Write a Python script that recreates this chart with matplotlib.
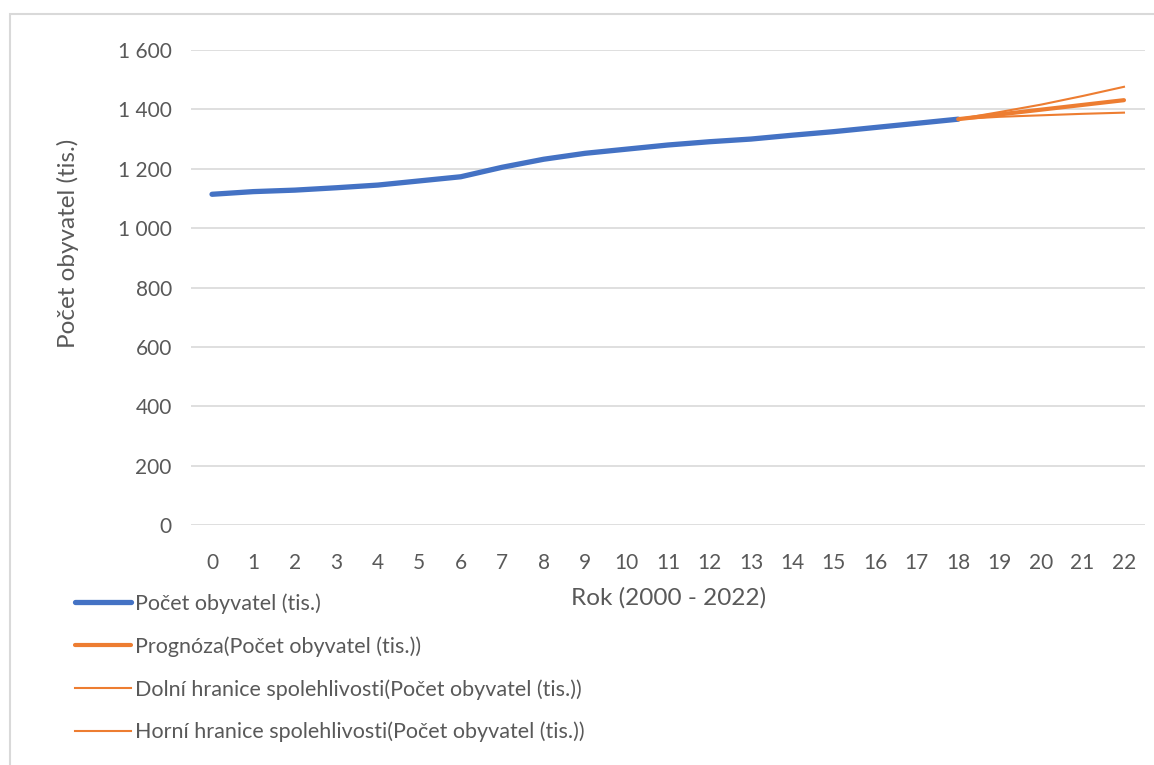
import numpy as np
import matplotlib
matplotlib.use("Agg")
from matplotlib import pyplot as plt
from matplotlib.patches import Rectangle
from matplotlib.ticker import FuncFormatter

plt.rcParams['font.family'] = ['Lato', 'DejaVu Sans']

# pocet obyvatel 2000 - 2018 (tis.)
roky = list(range(0, 19))
obyvatele = [1114, 1123, 1128, 1136, 1145, 1159, 1173, 1205, 1232, 1252,
             1266, 1280, 1291, 1300, 1313, 1325, 1339, 1353, 1367]
# prognoza 2018 - 2022
roky_prog = [18, 19, 20, 21, 22]
prognoza = [1367, 1383, 1399, 1415, 1431]
dolni = [1367, 1375, 1380, 1385, 1389]
horni = [1367, 1391, 1416, 1445, 1476]

modra = '#4472C4'
oranzova = '#ED7D31'
seda = '#595959'

fig = plt.figure(figsize=(11.54, 7.65), dpi=100)
ax = fig.add_axes([191.3 / 1154, 1 - 525 / 765, (1144.7 - 191.3) / 1154, 475 / 765])

ax.plot(roky, obyvatele, color=modra, linewidth=3.8, solid_capstyle='round',
        label='Počet obyvatel (tis.)', zorder=3)
ax.plot(roky_prog, prognoza, color=oranzova, linewidth=3.0, solid_capstyle='round',
        label='Prognóza(Počet obyvatel (tis.))', zorder=3)
ax.plot(roky_prog, dolni, color=oranzova, linewidth=1.5,
        label='Dolní hranice spolehlivosti(Počet obyvatel (tis.))', zorder=3)
ax.plot(roky_prog, horni, color=oranzova, linewidth=1.5,
        label='Horní hranice spolehlivosti(Počet obyvatel (tis.))', zorder=3)

ax.set_xlim(-0.5, 22.5)
ax.set_ylim(0, 1600)
ax.set_xticks(range(0, 23))
ax.set_yticks(range(0, 1601, 200))
ax.yaxis.set_major_formatter(FuncFormatter(lambda v, p: '{:,}'.format(int(v)).replace(',', ' ')))
ax.grid(axis='y', color='#d9d9d9', linewidth=1.2)
ax.set_axisbelow(True)
for s in ax.spines.values():
    s.set_visible(False)
ax.tick_params(length=0, labelsize=15, colors=seda)
ax.tick_params(axis='x', pad=20)
ax.tick_params(axis='y', pad=14)

fig.text(669 / 1154, 1 - 598 / 765, 'Rok (2000 - 2022)', ha='center', va='center',
         fontsize=17.5, color=seda)
fig.text(68 / 1154, 1 - 243 / 765, 'Počet obyvatel (tis.)', ha='center', va='center',
         rotation=90, fontsize=17.5, color=seda)

fig.legend(loc='upper left', bbox_to_anchor=(56 / 1154, 1 - 574 / 765), frameon=False,
           fontsize=15.5, labelcolor=seda, handlelength=2.6, handletextpad=0.15,
           labelspacing=1.03)

# ramecek grafu
fig.patches.append(Rectangle((10 / 1154, -0.1), 1.2, 1.1 - 14 / 765, transform=fig.transFigure,
                             fill=False, edgecolor='#d9d9d9', linewidth=1.5))

fig.savefig('out.png', dpi=100)
